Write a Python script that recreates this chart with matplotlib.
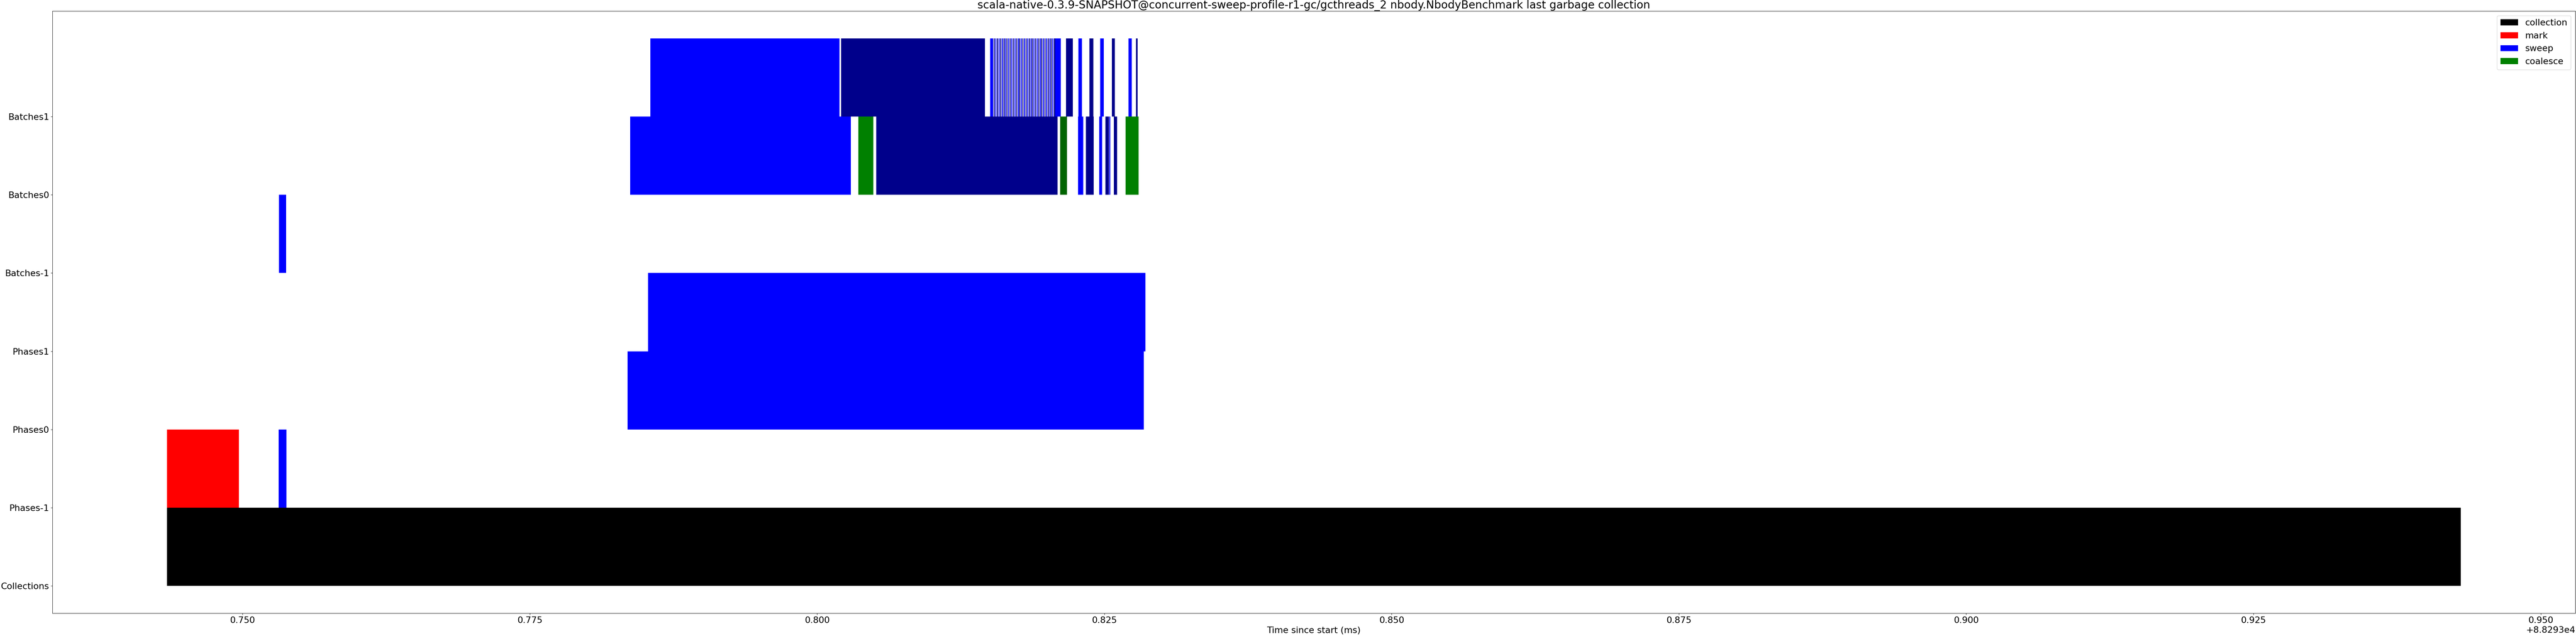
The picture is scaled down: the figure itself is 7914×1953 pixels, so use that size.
import matplotlib
matplotlib.use("Agg")
import matplotlib.pyplot as plt
import matplotlib.patches as mpatches

plt.rcParams['font.family'] = ['DejaVu Sans']
plt.rcParams['font.size'] = 19.5

TITLE = "scala-native-0.3.9-SNAPSHOT@concurrent-sweep-profile-r1-gc/gcthreads_2 nbody.NbodyBenchmark last garbage collection"
BASE = 88293.0  # ms

row_labels = ['Collections', 'Phases-1', 'Phases0', 'Phases1', 'Batches-1', 'Batches0', 'Batches1']

# --- events (ms offsets from BASE) per row ---
collections_start = [0.743429]
collections_end = [0.943035]
collections_kind = ['collection']

phases_m1_start = [0.743429, 0.753144]
phases_m1_end = [0.749674, 0.753824]
phases_m1_kind = ['mark', 'sweep']

phases0_start = [0.783509]
phases0_end = [0.828432]
phases0_kind = ['sweep']

phases1_start = [0.785293]
phases1_end = [0.828574]
phases1_kind = ['sweep']

batches_m1_start = [0.753172]
batches_m1_end = [0.753796]
batches_m1_kind = ['sweep']

batches0_start = [0.783735, 0.803591, 0.805149, 0.821152, 0.822710, 0.823390, 0.824551,
                  0.825090, 0.825429, 0.825825, 0.826845]
batches0_end = [0.802940, 0.804894, 0.820926, 0.821747, 0.823163, 0.824070, 0.824806,
                0.825401, 0.825514, 0.826109, 0.827979]
batches0_kind = ['sweep', 'coalesce', 'sweep2', 'coalesce2', 'sweep', 'sweep2', 'sweep',
                 'sweep2', 'sweep', 'sweep2', 'coalesce']

batches1_start = [0.785491, 0.802089, 0.815063,
                  0.815374, 0.815516, 0.815657, 0.815799, 0.815941, 0.816082, 0.816224,
                  0.816337, 0.816479, 0.816620, 0.816762, 0.816904, 0.817045, 0.817187,
                  0.817328, 0.817470, 0.817583, 0.817725, 0.817866, 0.818008, 0.818150,
                  0.818291, 0.818433, 0.818574, 0.818688, 0.818829, 0.818971, 0.819113,
                  0.819254, 0.819396, 0.819509, 0.819651, 0.819792, 0.819934, 0.820076,
                  0.820217, 0.820330, 0.820472, 0.820614,
                  0.820728, 0.821662, 0.822739, 0.823702, 0.824636, 0.825656, 0.827101,
                  0.827752]
batches1_end = [0.801948, 0.814609, 0.815317,
                0.815459, 0.815601, 0.815742, 0.815884, 0.816026, 0.816167, 0.816309,
                0.816422, 0.816564, 0.816705, 0.816847, 0.816989, 0.817130, 0.817272,
                0.817413, 0.817555, 0.817668, 0.817810, 0.817951, 0.818093, 0.818235,
                0.818376, 0.818518, 0.818659, 0.818773, 0.818914, 0.819056, 0.819198,
                0.819339, 0.819481, 0.819594, 0.819736, 0.819877, 0.820019, 0.820161,
                0.820302, 0.820415, 0.820557, 0.820727,
                0.821209, 0.822257, 0.823050, 0.824040, 0.824948, 0.825911, 0.827384,
                0.827894]
batches1_kind = ['sweep', 'sweep2', 'sweep',
                 'sweep2', 'sweep', 'sweep2', 'sweep', 'sweep2', 'sweep', 'sweep2',
                 'sweep', 'sweep2', 'sweep', 'sweep2', 'sweep', 'sweep2', 'sweep',
                 'sweep2', 'sweep', 'sweep2', 'sweep', 'sweep2', 'sweep', 'sweep2',
                 'sweep', 'sweep2', 'sweep', 'sweep2', 'sweep', 'sweep2', 'sweep',
                 'sweep2', 'sweep', 'sweep2', 'sweep', 'sweep2', 'sweep', 'sweep2',
                 'sweep', 'sweep2', 'sweep', 'sweep2',
                 'sweep', 'sweep2', 'sweep', 'sweep2', 'sweep', 'sweep2', 'sweep',
                 'sweep2']

legend_labels = ['collection', 'mark', 'sweep', 'coalesce']

# --- styles ---
kind_colors = {
    'collection': '#000000',
    'mark': '#ff0000',
    'sweep': '#0000ff',
    'sweep2': '#00008b',
    'coalesce': '#008000',
    'coalesce2': '#006400',
}

rows = [
    (collections_start, collections_end, collections_kind),
    (phases_m1_start, phases_m1_end, phases_m1_kind),
    (phases0_start, phases0_end, phases0_kind),
    (phases1_start, phases1_end, phases1_kind),
    (batches_m1_start, batches_m1_end, batches_m1_kind),
    (batches0_start, batches0_end, batches0_kind),
    (batches1_start, batches1_end, batches1_kind),
]

W, H, DPI = 7914, 1953, 100
fig = plt.figure(figsize=(W / DPI, H / DPI), dpi=DPI)
ax = fig.add_axes([161 / W, 1 - 1883 / H, (7912 - 161) / W, (1883 - 34) / H])

for i, (starts, ends, kinds) in enumerate(rows):
    for s, e, k in zip(starts, ends, kinds):
        ax.broken_barh([(BASE + s, e - s)], (i, 1), facecolors=kind_colors[k],
                       linewidth=0)

ax.set_yticks(range(len(row_labels)))
ax.set_yticklabels(row_labels)
ax.set_xlabel('Time since start (ms)')
ax.set_title(TITLE, fontsize=24, pad=4)

handles = [mpatches.Patch(facecolor=kind_colors[l] if l in kind_colors else kind_colors['collection'],
                          label=l) for l in legend_labels]
ax.legend(handles=handles, loc='upper right')

fig.savefig('out.png', dpi=DPI)
